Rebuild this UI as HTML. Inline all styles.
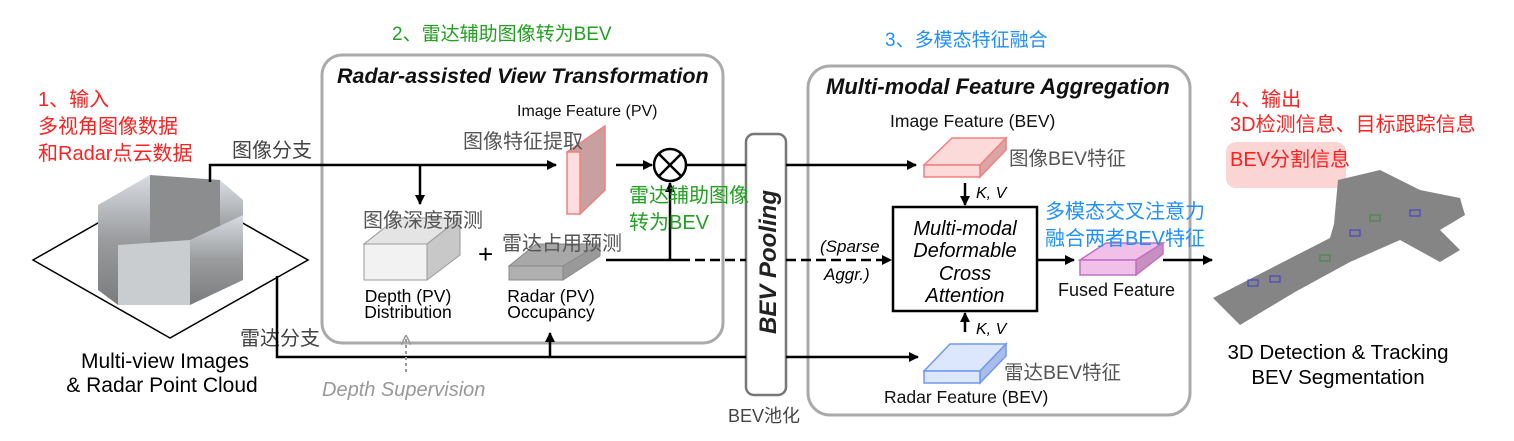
<!DOCTYPE html>
<html><head><meta charset="utf-8"><style>
body{margin:0;background:#fff}
svg{display:block}
text{font-family:"Liberation Sans","Noto Sans CJK SC",sans-serif}
</style></head><body>
<svg width="1514" height="441" viewBox="0 0 1514 441" xmlns="http://www.w3.org/2000/svg">
<defs>
<marker id="a" markerWidth="10" markerHeight="10" refX="9" refY="5" orient="auto" markerUnits="userSpaceOnUse"><path d="M0,0 L10,5 L0,10 z" fill="#000"/></marker>
<marker id="g" markerWidth="10" markerHeight="10" refX="9" refY="5" orient="auto" markerUnits="userSpaceOnUse"><path d="M0,0 L10,5 L0,10" fill="none" stroke="#999" stroke-width="1.5"/></marker>
<linearGradient id="ph" x1="0" y1="0" x2="0" y2="1"><stop offset="0" stop-color="#d8dde2"/><stop offset="0.5" stop-color="#9a9c9e"/><stop offset="1" stop-color="#7a7b7c"/></linearGradient>
</defs>

<!-- titles -->
<text x="392" y="40" font-size="19" fill="#22a022">2、雷达辅助图像转为BEV</text>
<text x="885" y="46" font-size="19" fill="#1e90ff">3、多模态特征融合</text>
<text x="38" y="106" font-size="20" fill="#ff2020">1、输入</text>
<text x="38" y="133" font-size="20" fill="#ff2020">多视角图像数据</text>
<text x="38" y="160" font-size="20" fill="#ff2020">和Radar点云数据</text>
<text x="1230" y="106" font-size="20" fill="#ff2020">4、输出</text>
<text x="1230" y="131" font-size="20" fill="#ff2020">3D检测信息、目标跟踪信息</text>
<rect x="1226" y="142" width="120" height="46" rx="10" fill="#fbd4d4"/>
<text x="1230" y="166" font-size="20" fill="#ff2020">BEV分割信息</text>

<!-- input diagram -->
<polygon points="33,260 170,182 308,260 170,338" fill="none" stroke="#000" stroke-width="1.5"/>
<polygon points="98,205 150,175 150,245 118,265 118,305 98,290" fill="url(#ph)"/>
<polygon points="150,175 220,180 220,245 150,245" fill="#8c8d8e"/>
<polygon points="220,180 243,200 243,280 220,245" fill="url(#ph)"/>
<polygon points="118,245 190,240 190,305 118,305" fill="#c9cdd0"/>
<polygon points="190,240 243,215 243,280 190,305" fill="url(#ph)"/>
<text x="165" y="368" font-size="21" text-anchor="middle" fill="#000">Multi-view Images</text>
<text x="162" y="392" font-size="21" text-anchor="middle" fill="#000">&amp; Radar Point Cloud</text>
<text x="232" y="157" font-size="20" fill="#444">图像分支</text>
<text x="240" y="345" font-size="20" fill="#444">雷达分支</text>

<!-- group boxes -->
<rect x="322" y="55" width="401" height="288" rx="20" fill="none" stroke="#aaa" stroke-width="3"/>
<text x="337" y="83" font-size="21.5" font-weight="bold" font-style="italic" fill="#111">Radar-assisted View Transformation</text>
<rect x="808" y="66" width="382" height="349" rx="22" fill="none" stroke="#aaa" stroke-width="3"/>
<text x="826" y="94" font-size="22" font-weight="bold" font-style="italic" fill="#111">Multi-modal Feature Aggregation</text>
<rect x="746" y="134" width="40" height="261" rx="8" fill="#fff" stroke="#777" stroke-width="2.5"/>
<text transform="translate(776,262) rotate(-90)" font-size="24" font-weight="bold" font-style="italic" text-anchor="middle" fill="#222">BEV Pooling</text>
<text x="728" y="422" font-size="18" fill="#444">BEV池化</text>

<!-- lines -->
<polyline points="210,182 210,165 556,165" fill="none" stroke="#000" stroke-width="2.5" marker-end="url(#a)"/>
<line x1="420" y1="165" x2="420" y2="204" stroke="#000" stroke-width="2.5" marker-end="url(#a)"/>
<line x1="616" y1="165" x2="652" y2="165" stroke="#000" stroke-width="2.5" marker-end="url(#a)"/>
<circle cx="670" cy="165" r="16" fill="#fff" stroke="#000" stroke-width="2.5"/>
<line x1="659" y1="154" x2="681" y2="176" stroke="#000" stroke-width="2.5"/>
<line x1="681" y1="154" x2="659" y2="176" stroke="#000" stroke-width="2.5"/>
<line x1="686" y1="165" x2="746" y2="165" stroke="#000" stroke-width="2.5"/>
<line x1="786" y1="165" x2="916" y2="165" stroke="#000" stroke-width="2.5" marker-end="url(#a)"/>
<line x1="606" y1="260" x2="680" y2="260" stroke="#000" stroke-width="2.5"/>
<line x1="670" y1="260" x2="670" y2="183" stroke="#000" stroke-width="2.5" marker-end="url(#a)"/>
<line x1="680" y1="260" x2="746" y2="260" stroke="#000" stroke-width="2.5" stroke-dasharray="10,5"/>
<line x1="786" y1="260" x2="891" y2="260" stroke="#000" stroke-width="2.5" stroke-dasharray="10,5" marker-end="url(#a)"/>
<polyline points="277,276 277,357 746,357" fill="none" stroke="#000" stroke-width="2.5"/>
<line x1="786" y1="357" x2="918" y2="357" stroke="#000" stroke-width="2.5" marker-end="url(#a)"/>
<line x1="550" y1="357" x2="550" y2="333" stroke="#000" stroke-width="2.5" marker-end="url(#a)"/>
<line x1="406" y1="372" x2="406" y2="336" stroke="#999" stroke-width="2" stroke-dasharray="3,3" marker-end="url(#g)"/>
<text x="322" y="396" font-size="20" font-style="italic" fill="#999">Depth Supervision</text>

<!-- left box contents -->
<text x="517" y="116" font-size="16" fill="#111">Image Feature (PV)</text>
<polygon points="567,152 605,126 605,190 580,214" fill="#c9a0a0" stroke="#f08080" stroke-width="1.5"/>
<rect x="567" y="152" width="13" height="62" fill="#fdd" stroke="#f08080" stroke-width="1.5"/>
<text x="463" y="148" font-size="20" fill="#555">图像特征提取</text>
<polygon points="364,244 397,218 460,218 427,244" fill="#e4e4e4" stroke="#999"/>
<polygon points="427,244 460,218 460,255 427,280" fill="#c8c8c8" stroke="#999"/>
<rect x="364" y="244" width="63" height="36" fill="#f2f2f2" stroke="#999"/>
<text x="363" y="227" font-size="20" fill="#555">图像深度预测</text>
<text x="408" y="302" font-size="17.5" text-anchor="middle" fill="#000">Depth (PV)</text>
<text x="408" y="318" font-size="17.5" text-anchor="middle" fill="#000">Distribution</text>
<text x="478" y="263" font-size="26" fill="#000">+</text>
<polygon points="509,266 536,244 600,244 563,266" fill="#a8a8a8" stroke="#888"/>
<polygon points="563,266 600,244 600,256 563,280" fill="#999" stroke="#888"/>
<rect x="509" y="266" width="54" height="14" fill="#b0b0b0" stroke="#888"/>
<text x="502" y="250" font-size="20" fill="#555">雷达占用预测</text>
<text x="551" y="302" font-size="17.5" text-anchor="middle" fill="#000">Radar (PV)</text>
<text x="551" y="318" font-size="17.5" text-anchor="middle" fill="#000">Occupancy</text>
<text x="629" y="202" font-size="20" fill="#22a022">雷达辅助图像</text>
<text x="629" y="229" font-size="20" fill="#22a022">转为BEV</text>

<!-- right box contents -->
<text x="890" y="127" font-size="17.5" fill="#111">Image Feature (BEV)</text>
<polygon points="924,165 952,138 1006,138 980,165" fill="#fcdada" stroke="#f08080" stroke-width="1.5"/>
<polygon points="980,165 1006,138 1006,150 980,177" fill="#d9a5a5" stroke="#f08080" stroke-width="1.5"/>
<rect x="924" y="165" width="56" height="12" fill="#fcdada" stroke="#f08080" stroke-width="1.5"/>
<text x="1009" y="165" font-size="19.5" fill="#555">图像BEV特征</text>
<line x1="965" y1="183" x2="965" y2="205" stroke="#000" stroke-width="2.5" marker-end="url(#a)"/>
<text x="976" y="198" font-size="16" font-style="italic" fill="#000">K, V</text>
<rect x="893" y="207" width="144" height="104" fill="#fff" stroke="#000" stroke-width="2.5"/>
<text x="965" y="235" font-size="20" font-style="italic" text-anchor="middle" fill="#000">Multi-modal</text>
<text x="965" y="257" font-size="20" font-style="italic" text-anchor="middle" fill="#000">Deformable</text>
<text x="965" y="280" font-size="20" font-style="italic" text-anchor="middle" fill="#000">Cross</text>
<text x="965" y="302" font-size="20" font-style="italic" text-anchor="middle" fill="#000">Attention</text>
<text x="820" y="252" font-size="17" font-style="italic" fill="#000">(Sparse</text>
<text x="824" y="280" font-size="17" font-style="italic" fill="#000">Aggr.)</text>
<line x1="965" y1="332" x2="965" y2="313" stroke="#000" stroke-width="2.5" marker-end="url(#a)"/>
<text x="976" y="334" font-size="16" font-style="italic" fill="#000">K, V</text>
<polygon points="924,371 950,344 1006,344 980,371" fill="#dce6fc" stroke="#6f98f0" stroke-width="1.5"/>
<polygon points="980,371 1006,344 1006,356 980,383" fill="#a9bde8" stroke="#6f98f0" stroke-width="1.5"/>
<rect x="924" y="371" width="56" height="12" fill="#dce6fc" stroke="#6f98f0" stroke-width="1.5"/>
<text x="1004" y="379" font-size="19.5" fill="#555">雷达BEV特征</text>
<text x="884" y="403" font-size="17.5" fill="#111">Radar Feature (BEV)</text>
<line x1="1037" y1="260" x2="1074" y2="260" stroke="#000" stroke-width="2.5" marker-end="url(#a)"/>
<polygon points="1080,260 1106,243 1163,243 1136,260" fill="#f0c0e8" stroke="#c070c0" stroke-width="1.5"/>
<polygon points="1136,260 1163,243 1163,254 1136,275" fill="#c890c0" stroke="#c070c0" stroke-width="1.5"/>
<rect x="1080" y="260" width="56" height="15" fill="#f0c0e8" stroke="#c070c0" stroke-width="1.5"/>
<text x="1045" y="218" font-size="20" fill="#1e90ff">多模态交叉注意力</text>
<text x="1045" y="245" font-size="20" fill="#1e90ff">融合两者BEV特征</text>
<text x="1058" y="296" font-size="18" fill="#111">Fused Feature</text>
<line x1="1163" y1="260" x2="1212" y2="260" stroke="#000" stroke-width="2.5" marker-end="url(#a)"/>

<!-- output map -->
<polygon points="1213,298 1330,238 1334,224 1338,180 1380,170 1420,190 1460,198 1465,215 1440,230 1460,250 1440,262 1400,240 1350,262 1295,292 1240,325" fill="#858585"/>
<rect x="1248" y="280" width="10" height="6" fill="none" stroke="#3a3ad0"/>
<rect x="1270" y="276" width="10" height="6" fill="none" stroke="#3a3ad0"/>
<rect x="1320" y="255" width="10" height="6" fill="none" stroke="#3a8a3a"/>
<rect x="1350" y="230" width="10" height="6" fill="none" stroke="#3a3ad0"/>
<rect x="1370" y="215" width="10" height="6" fill="none" stroke="#3a8a3a"/>
<rect x="1410" y="210" width="10" height="6" fill="none" stroke="#3a3ad0"/>
<text x="1338" y="359" font-size="20.5" text-anchor="middle" fill="#000">3D Detection &amp; Tracking</text>
<text x="1338" y="384" font-size="20.5" text-anchor="middle" fill="#000">BEV Segmentation</text>
</svg>
</body></html>
